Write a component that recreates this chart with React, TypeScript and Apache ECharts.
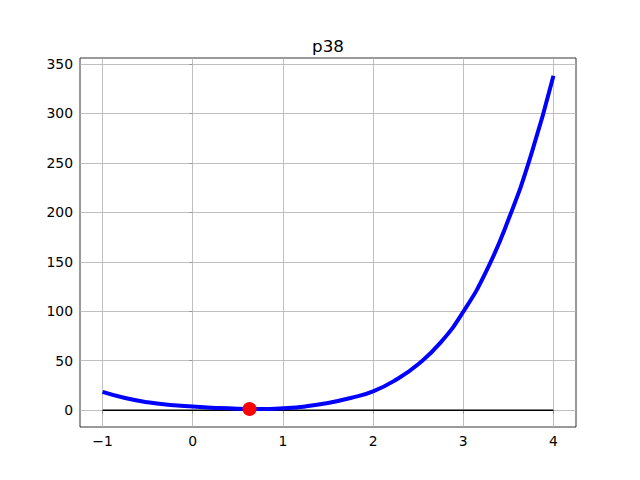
import React, { useEffect, useRef } from "react";
import * as echarts from "echarts";

const titleText = "p38";
const curveX = [-1, -0.75, -0.5, -0.25, 0, 0.25, 0.5, 0.75, 1, 1.25, 1.5, 1.75, 2, 2.25, 2.5, 2.75, 3, 3.25, 3.5, 3.75, 4];
const curveY = [18.5, 12.3, 8.0, 5.3, 3.7, 2.3, 1.5, 1.3, 2.0, 3.8, 7.2, 12.3, 19, 30.5, 46.5, 68.5, 99.5, 139.5, 192.5, 257.5, 338];
const zeroX = [-1, 4];
const zeroY = [0, 0];
const rootX = [0.63];
const rootY = [1.2];
const xTicks = [-1, 0, 1, 2, 3, 4];
const yTicks = [0, 50, 100, 150, 200, 250, 300, 350];

const FONT = "DejaVu Sans";
const fmt = (v: number) => String(v).replace("-", "\u2212");

export default function App() {
  const ref = useRef<HTMLDivElement>(null);
  useEffect(() => {
    const chart = echarts.init(ref.current!, null, { renderer: "svg" });
    const tickStyle = { color: "#000", width: 0.8 };
    const labelStyle = { color: "#000", fontSize: 13.9, fontFamily: FONT, formatter: fmt };
    chart.setOption({
      animation: false,
      backgroundColor: "#fff",
      grid: { left: 80, right: 64, top: 58, bottom: 53, show: true, borderColor: "#000", borderWidth: 0.8, backgroundColor: "transparent" },
      graphic: [
        {
          type: "text",
          x: 328,
          y: 54,
          style: { text: titleText, fontSize: 16.7, fontFamily: FONT, fill: "#000", textAlign: "center", textVerticalAlign: "bottom" },
        },
      ],
      xAxis: {
        type: "value",
        min: -1.25,
        max: 4.25,
        axisLine: { show: false },
        axisTick: { show: true, length: 3.5, lineStyle: tickStyle, customValues: xTicks },
        axisLabel: { ...labelStyle, margin: 7, customValues: xTicks },
        splitLine: { show: false },
      },
      yAxis: {
        type: "value",
        min: -17,
        max: 356,
        axisLine: { show: false },
        axisTick: { show: true, length: 3.5, lineStyle: tickStyle, customValues: yTicks },
        axisLabel: { ...labelStyle, margin: 7, customValues: yTicks },
        splitLine: { show: false },
      },
      series: [
        {
          type: "line",
          z: 2,
          data: zeroX.map((x, i) => [x, zeroY[i]]),
          symbol: "none",
          lineStyle: { color: "#000", width: 1.5 },
          markLine: {
            silent: true,
            symbol: ["none", "none"],
            label: { show: false },
            lineStyle: { color: "#b0b0b0", width: 0.8, type: "solid" },
            data: [...xTicks.map((v) => ({ xAxis: v })), ...yTicks.map((v) => ({ yAxis: v }))],
            z: 1,
          },
        },
        {
          type: "line",
          z: 3,
          data: curveX.map((x, i) => [x, curveY[i]]),
          symbol: "none",
          smooth: 0.5,
          lineStyle: { color: "#0000ff", width: 4 },
        },
        {
          type: "scatter",
          z: 4,
          data: rootX.map((x, i) => [x, rootY[i]]),
          symbol: "circle",
          symbolSize: 14,
          itemStyle: { color: "#ff0000", opacity: 1 },
        },
      ],
    });
    return () => chart.dispose();
  }, []);
  return <div ref={ref} style={{ position: "absolute", left: 0, top: 0, width: 640, height: 480 }} />;
}
